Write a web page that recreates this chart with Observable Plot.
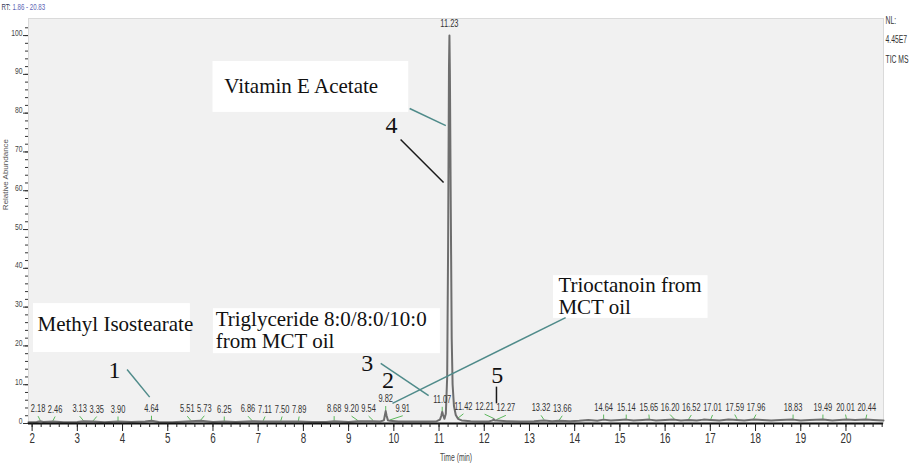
<!DOCTYPE html>
<html><head><meta charset="utf-8">
<script src="https://cdn.jsdelivr.net/npm/d3@7"></script>
<script src="https://cdn.jsdelivr.net/npm/@observablehq/plot@0.6"></script>
<style>
body{margin:0;background:#fff;}
#chart svg{display:block;overflow:visible;}
</style>
</head><body><div id="chart"></div>
<script>
// ---- chromatogram trace (retention time, relative abundance) ----
const times = [
 1.92, 2.10, 2.18, 2.25, 2.46, 2.70, 3.00, 3.13, 3.35, 3.60,
 3.90, 4.20, 4.50, 4.64, 4.80, 5.10, 5.51, 5.73, 6.00, 6.25,
 6.50, 6.86, 7.11, 7.50, 7.89, 8.20, 8.50, 8.68, 9.00, 9.20,
 9.54, 9.70, 9.78, 9.80, 9.82, 9.84, 9.87, 9.91, 10.10, 10.40,
 10.70, 10.95, 11.02, 11.05, 11.07, 11.09, 11.12, 11.15, 11.18, 11.20,
 11.22, 11.23, 11.24, 11.26, 11.28, 11.30, 11.33, 11.37, 11.42, 11.50,
 11.70, 11.90, 12.10, 12.19, 12.21, 12.23, 12.27, 12.50, 12.80, 13.10,
 13.32, 13.50, 13.66, 13.90, 14.10, 14.30, 14.50, 14.64, 14.80, 15.00,
 15.14, 15.30, 15.50, 15.65, 15.80, 16.00, 16.20, 16.35, 16.52, 16.70,
 16.85, 17.01, 17.20, 17.40, 17.59, 17.75, 17.96, 18.15, 18.35, 18.55,
 18.83, 19.00, 19.20, 19.49, 19.70, 20.01, 20.20, 20.44, 20.60, 20.83
];
const abundance = [
 0.3, 0.4, 0.6, 0.4, 0.5, 0.3, 0.4, 0.6, 0.5, 0.3,
 0.5, 0.4, 0.5, 0.7, 0.4, 0.3, 0.6, 0.7, 0.4, 0.5,
 0.4, 0.6, 0.5, 0.5, 0.5, 0.4, 0.4, 0.6, 0.4, 0.6,
 0.6, 0.5, 0.8, 2.0, 3.2, 2.0, 0.8, 0.7, 0.5, 0.5,
 0.5, 0.6, 1.0, 2.0, 3.0, 2.2, 1.2, 2.5, 12, 45,
 92, 100, 90, 55, 22, 10, 4.5, 2.2, 1.2, 0.8,
 0.6, 0.5, 0.5, 0.8, 1.1, 0.8, 0.8, 0.6, 0.5, 0.6,
 0.8, 0.6, 0.7, 0.6, 0.7, 0.9, 0.7, 1.0, 0.8, 0.9,
 1.0, 0.8, 0.9, 1.0, 0.8, 0.9, 1.0, 0.8, 0.9, 0.8,
 1.0, 0.9, 0.8, 1.0, 0.9, 0.8, 1.0, 0.9, 0.8, 0.9,
 1.0, 0.8, 0.9, 1.0, 0.8, 1.0, 0.9, 1.0, 0.9, 0.8
];

// ---- retention-time peak labels ----
const peakLabels = ["2.18","2.46","3.13","3.35","3.90","4.64","5.51","5.73","6.25","6.86",
 "7.11","7.50","7.89","8.68","9.20","9.54","9.82","9.91","11.07","11.23",
 "11.42","12.21","12.27","13.32","13.66","14.64","15.14","15.65","16.20","16.52",
 "17.01","17.59","17.96","18.83","19.49","20.01","20.44"];
const peakHeights = [0.6,0.5,0.6,0.5,0.5,0.7,0.6,0.7,0.5,0.6,
 0.5,0.5,0.5,0.6,0.6,0.6,3.2,0.7,3.0,100,
 1.2,1.1,0.8,0.8,0.7,1.0,1.0,1.0,1.0,0.9,
 0.9,1.0,1.0,1.0,1.0,1.0,1.0];

// ---- compound annotations ----
const boxX1 = [6.0, 2.03, 6.01, 13.53];
const boxX2 = [10.33, 5.50, 11.03, 16.95];
const boxY1 = [80.2, 18.3, 18.0, 27.1];
const boxY2 = [93.3, 30.9, 29.6, 38.1];
const compoundNames = ["Vitamin E Acetate", "Methyl Isostearate", "Triglyceride 8:0/8:0/10:0\nfrom MCT oil", "Trioctanoin from\nMCT oil"];
const nameTime = [6.25, 2.12, 6.06, 13.64];
const nameAbund = [86.9, 25.6, 24.2, 32.9];

const peakNumbers = ["4", "1", "3", "2", "5"];
const numberTime = [9.95, 3.82, 9.41, 9.87, 12.29];
const numberAbund = [76.8, 13.8, 15.6, 11.2, 12.4];

const leaderX1 = [10.35, 10.15, 4.10, 9.71, 9.97, 12.27];
const leaderX2 = [11.15, 11.10, 4.60, 10.77, 13.80, 12.27];
const leaderY1 = [81.2, 73.2, 13.9, 15.5, 5.2, 9.5];
const leaderY2 = [76.8, 62.1, 6.8, 7.2, 27.3, 5.2];
const leaderColor = ["#4f8b8a", "#1a1a1a", "#4f8b8a", "#4f8b8a", "#4f8b8a", "#1a1a1a"];

// ---- axes ----
const xTickValues = [2,3,4,5,6,7,8,9,10,11,12,13,14,15,16,17,18,19,20];
const yTickValues = [0,10,20,30,40,50,60,70,80,90,100];
const xMinor = d3.range(20, 209, 2).map(v => v / 10);
const yMinor = d3.range(0, 104, 2);

const headerLeft = ["RT:", "1.86 - 20.83"];
const headerRight = ["NL:", "4.45E7", "TIC MS"];

const trace = times.map((t, i) => ({t, v: abundance[i]}));
const peaks = peakLabels.map((s, i) => ({t: +s, h: peakHeights[i], s, lx: +s}));

// spread baseline labels apart so they don't collide (like the instrument software does);
// raised labels of small peaks act as fixed obstacles
const labelSize = 11, labelSqueeze = 0.68, pxPerMin = 855 / 18.91;
const labelWidth = s => (s.replace(".", "").length * 0.556 + 0.278) * labelSize * labelSqueeze / pxPerMin;
const row = peaks.filter(d => d.h < 50).sort((a, b) => a.t - b.t);
row.forEach(d => d.fixed = d.h >= 2);
for (let it = 0; it < 300; it++) {
  for (let i = 1; i < row.length; i++) {
    const a = row[i - 1], b = row[i];
    const need = (labelWidth(a.s) + labelWidth(b.s)) / 2 + 2.5 / pxPerMin;
    const gap = b.lx - a.lx;
    if (gap < need) {
      const d = need - gap;
      if (a.fixed && b.fixed) continue;
      if (a.fixed) b.lx += d;
      else if (b.fixed) a.lx -= d;
      else { a.lx -= d / 2; b.lx += d / 2; }
    }
  }
}
const boxes = boxX1.map((x1, i) => ({x1, x2: boxX2[i], y1: boxY1[i], y2: boxY2[i]}));
const names = compoundNames.map((s, i) => ({s, t: nameTime[i], v: nameAbund[i]}));
const nums = peakNumbers.map((s, i) => ({s, t: numberTime[i], v: numberAbund[i]}));
const leaders = leaderX1.map((x1, i) => ({x1, x2: leaderX2[i], y1: leaderY1[i], y2: leaderY2[i], c: leaderColor[i]}));

const sans = "'Liberation Sans', Arial, sans-serif";
const serif = "'Liberation Serif', 'Times New Roman', serif";

const chart = Plot.plot({
  width: 913, height: 472,
  marginLeft: 28, marginRight: 30, marginTop: 18, marginBottom: 49,
  x: {domain: [1.92, 20.83]},
  y: {domain: [0, 104.4]},
  style: {background: "transparent", overflow: "visible"},
  marks: [
    Plot.frame({fill: "#f1f1f1", stroke: "#dadada"}),
    Plot.rect(boxes, {x1: "x1", x2: "x2", y1: "y1", y2: "y2", fill: "#ffffff"}),
    Plot.link(peaks.filter(d => d.h < 50), {x1: "lx", y1: d => d.h + 1.3, x2: "t", y2: d => d.h + 0.2, stroke: "#5cb85c", strokeWidth: 1}),
    Plot.line(trace, {x: "t", y: "v", stroke: "#6e6e6e", strokeWidth: 2}),
    Plot.ruleY([0], {stroke: "#111", strokeWidth: 2}),
    Plot.axisX(xMinor, {tickSize: 4, tickFormat: () => "", stroke: "#222", label: null}),
    Plot.axisX(xTickValues, {tickSize: 8, tickPadding: 11, fontSize: 14, fontFamily: sans, fill: "#333", stroke: "#222", label: null}),
    Plot.axisY(yMinor, {tickSize: 3, tickFormat: () => "", stroke: "#333", label: null}),
    Plot.axisY(yTickValues, {tickSize: 5, tickPadding: 1, fontSize: 9, fontFamily: sans, fill: "#444", stroke: "#333", label: null}),
    Plot.text(peaks, {x: "lx", y: "h", text: "s", dy: -9, fontSize: labelSize, fontFamily: sans, fill: "#333"}),
    Plot.link(leaders, {x1: "x1", x2: "x2", y1: "y1", y2: "y2", stroke: "c", strokeWidth: 1.5}),
    Plot.text(names, {x: "t", y: "v", text: "s", textAnchor: "start", fontFamily: serif, fontSize: 21, lineHeight: 1.05, fill: "#111"}),
    Plot.text(nums, {x: "t", y: "v", text: "s", fontFamily: serif, fontSize: 24, fill: "#111"}),
    Plot.text(["Time (min)"], {frameAnchor: "bottom", dy: 37, fontSize: 10, fontFamily: sans, fill: "#444"}),
    Plot.text(["Relative Abundance"], {frameAnchor: "left", y: [55], dx: -23, rotate: -90, fontSize: 8, fontFamily: sans, fill: "#555"}),
    Plot.text([headerLeft[0]], {frameAnchor: "top-left", dx: -27, dy: -9, textAnchor: "start", fontSize: 9, fontFamily: sans, fill: "#3a3a5a"}),
    Plot.text([headerLeft[1]], {frameAnchor: "top-left", dx: -16, dy: -9, textAnchor: "start", fontSize: 9, fontFamily: sans, fill: "#5a64b4"}),
    Plot.text([headerRight[0]], {frameAnchor: "top-right", dx: 2, dy: 5, textAnchor: "start", fontSize: 10, fontFamily: sans, fill: "#333"}),
    Plot.text([headerRight[1]], {frameAnchor: "top-right", dx: 2, dy: 24, textAnchor: "start", fontSize: 10, fontFamily: sans, fill: "#333"}),
    Plot.text([headerRight[2]], {frameAnchor: "top-right", dx: 2, dy: 44, textAnchor: "start", fontSize: 10, fontFamily: sans, fill: "#333"})
  ]
});
document.getElementById("chart").appendChild(chart);

// condense small instrument-style labels horizontally (narrow font look)
function squeezeEl(node, sx, fs) {
  const el = d3.select(node);
  const tr = el.attr("transform");
  const x = el.attr("x"), y = el.attr("y");
  const base = (tr || "") + (x != null || y != null ? ` translate(${+x || 0},${+y || 0})` : "");
  el.attr("x", null).attr("y", null).attr("transform", base + ` scale(${sx},1)`);
  if (fs) el.attr("font-size", fs);
}
const narrowSet = new Set([...peakLabels, "Time (min)", ...headerLeft, ...headerRight]);
d3.select(chart).selectAll("text").each(function () {
  if (this.querySelector("tspan")) return;
  if (narrowSet.has(this.textContent)) squeezeEl(this, labelSqueeze);
});
d3.select(chart).selectAll('g[aria-label="x-axis tick label"] text').each(function () { squeezeEl(this, 0.7, 14); });
d3.select(chart).selectAll('g[aria-label="y-axis tick label"] text').each(function () { squeezeEl(this, 0.75, 9); });
</script>
</body></html>
